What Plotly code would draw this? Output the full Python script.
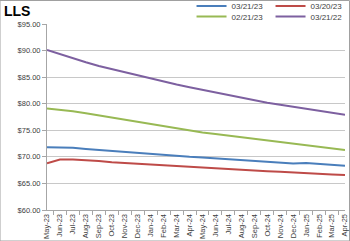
import plotly.graph_objects as go

months = ["May-23","Jun-23","Jul-23","Aug-23","Sep-23","Oct-23","Nov-23","Dec-23",
          "Jan-24","Feb-24","Mar-24","Apr-24","May-24","Jun-24","Jul-24","Aug-24",
          "Sep-24","Oct-24","Nov-24","Dec-24","Jan-25","Feb-25","Mar-25","Apr-25"]

s_032123 = [71.8,71.8,71.7,71.5,71.3,71.1,70.9,70.7,70.5,70.3,70.15,70.0,
            69.9,69.75,69.6,69.45,69.3,69.15,69.0,68.75,68.85,68.65,68.5,68.35]
s_032023 = [68.8,69.5,69.5,69.4,69.2,69.0,68.85,68.7,68.55,68.4,68.25,68.1,
            68.0,67.85,67.7,67.6,67.45,67.3,67.2,67.05,66.95,66.8,66.7,66.6]
s_022123 = [79.1,78.9,78.6,78.2,77.8,77.3,76.9,76.5,76.1,75.7,75.3,74.9,
            74.6,74.3,74.0,73.7,73.4,73.1,72.8,72.5,72.1,71.8,71.5,71.3]
s_032122 = [90.1,89.3,88.6,87.8,87.1,86.5,85.9,85.3,84.7,84.2,83.6,83.1,
            82.6,82.1,81.6,81.1,80.6,80.2,79.8,79.4,79.0,78.6,78.3,77.9]

y_ticks = [60, 65, 70, 75, 80, 85, 90, 95]

series = [
    ("03/21/23", s_032123, "#4A7EBB", "legend"),
    ("03/20/23", s_032023, "#BE4B48", "legend"),
    ("02/21/23", s_022123, "#98B954", "legend2"),
    ("03/21/22", s_032122, "#7D60A0", "legend2"),
]

fig = go.Figure()
for name, vals, color, lg in series:
    fig.add_trace(go.Scatter(x=months, y=vals, name=name, mode="lines",
                             line=dict(color=color, width=2), legend=lg))

PW, PH = 350 - 47 - 5, 241 - 24 - 31

font_family = "Liberation Sans"
legend_common = dict(orientation="h", xanchor="left", yanchor="middle",
                     font=dict(size=8, color="#404040", family=font_family),
                     bgcolor="rgba(0,0,0,0)", itemwidth=30,
                     entrywidth=34, entrywidthmode="pixels",
                     tracegroupgap=0, traceorder="normal")

fig.update_layout(
    width=350, height=241,
    margin=dict(l=47, r=5, t=24, b=31, autoexpand=False),
    paper_bgcolor="white", plot_bgcolor="white",
    showlegend=True,
    title=dict(text="<b>LLS</b>", x=0, xref="container", xanchor="left",
               y=1, yref="container", yanchor="top", pad=dict(l=4, t=6),
               font=dict(size=14, color="black", family=font_family)),
    legend=dict(x=0.485, y=1 + 18/PH, **legend_common),
    legend2=dict(x=0.485, y=1 + 7.5/PH, **legend_common),
    xaxis=dict(type="category", tickangle=-90, ticks="outside", ticklen=4,
               tickson="boundaries", tickcolor="#A6A6A6",
               showline=True, linecolor="#A6A6A6", linewidth=1,
               showgrid=False,
               tickfont=dict(size=7.5, color="#404040", family=font_family)),
    yaxis=dict(range=[60, 95], tickvals=y_ticks, tickformat="$.2f",
               ticks="outside", ticklen=4, tickcolor="#A6A6A6",
               showline=True, linecolor="#A6A6A6", linewidth=1,
               showgrid=True, gridcolor="#C8C8C8", gridwidth=1, zeroline=False,
               tickfont=dict(size=7.5, color="#404040", family=font_family)),
)

fig.add_shape(type="rect", xref="paper", yref="paper",
              x0=-47/PW, x1=1 + 4.5/PW, y0=-31/PH, y1=1 + 23.5/PH,
              line=dict(color="#A0A0A0", width=1), fillcolor="rgba(0,0,0,0)",
              layer="below")

fig.write_html("out.html")
